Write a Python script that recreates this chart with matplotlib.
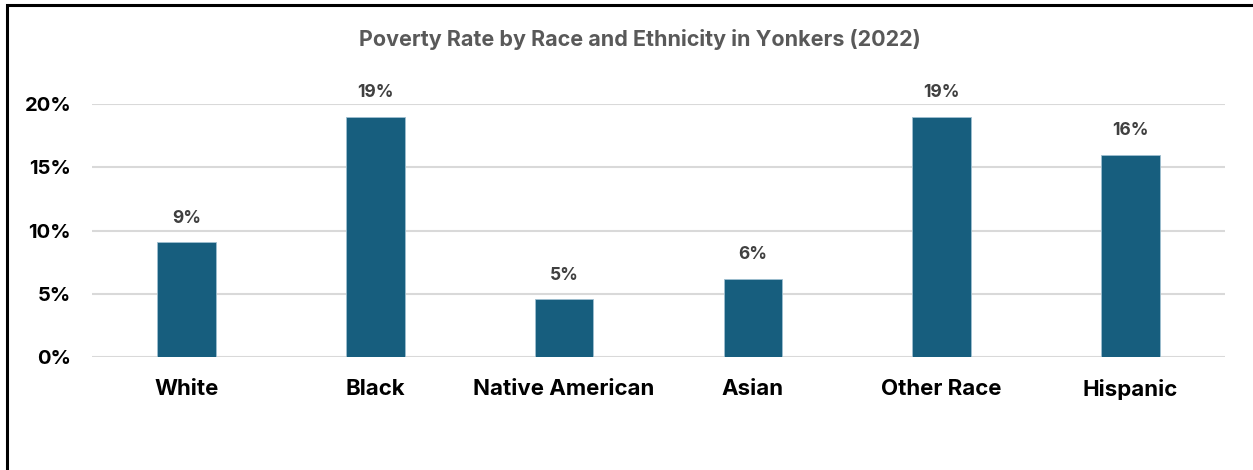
import matplotlib.pyplot as plt
from matplotlib.patches import Rectangle
from matplotlib.ticker import FuncFormatter

groups = ['White', 'Black', 'Native American', 'Asian', 'Other Race', 'Hispanic']
poverty_rate = [0.091, 0.190, 0.046, 0.062, 0.190, 0.160]
y_ticks = [0, 0.05, 0.10, 0.15, 0.20]

plt.rcParams['font.family'] = ['Inter', 'DejaVu Sans']

fig = plt.figure(figsize=(12.53, 4.70), dpi=100)
ax = fig.add_axes([92 / 1253, 1 - 357 / 470, (1225 - 92) / 1253, (357 - 104) / 470])

x = range(len(groups))
bars = ax.bar(x, poverty_rate, width=0.31, color='#175e7e', edgecolor='#9fbfd0',
              linewidth=0.6, zorder=3)

for b, v in zip(bars, poverty_rate):
    ax.annotate('{:.0%}'.format(v), (b.get_x() + b.get_width() / 2, v),
                xytext=(0, 11), textcoords='offset points', ha='center', va='bottom',
                fontsize=12.5, fontweight='bold', color='#404040', annotation_clip=False)

ax.set_xlim(-0.5, len(groups) - 0.5)
ax.set_ylim(0, 0.2)
ax.set_yticks(y_ticks)
ax.yaxis.set_major_formatter(FuncFormatter(lambda v, p: '{:.0%}'.format(v)))
ax.set_xticks(list(x))
ax.set_xticklabels(groups)
ax.tick_params(axis='y', length=0, pad=15, labelsize=14.5, labelcolor='black')
ax.tick_params(axis='x', length=0, pad=16, labelsize=16, labelcolor='black')
for lab in ax.get_xticklabels() + ax.get_yticklabels():
    lab.set_fontweight('bold')

ax.grid(axis='y', color='#d9d9d9', linewidth=1.5, zorder=0)
for s in ax.spines.values():
    s.set_visible(False)

fig.text(640 / 1253, 1 - 40 / 470, 'Poverty Rate by Race and Ethnicity in Yonkers (2022)',
         ha='center', va='center', fontsize=15.5, fontweight='bold', color='#595959')

# outer frame, running off the right and bottom edges
fig.patches.append(Rectangle((7 / 1253, -0.1), 1.1, 1.1 - 5 / 470, transform=fig.transFigure,
                             fill=False, edgecolor='black', linewidth=2.2))

fig.savefig('out.png', dpi=100)
